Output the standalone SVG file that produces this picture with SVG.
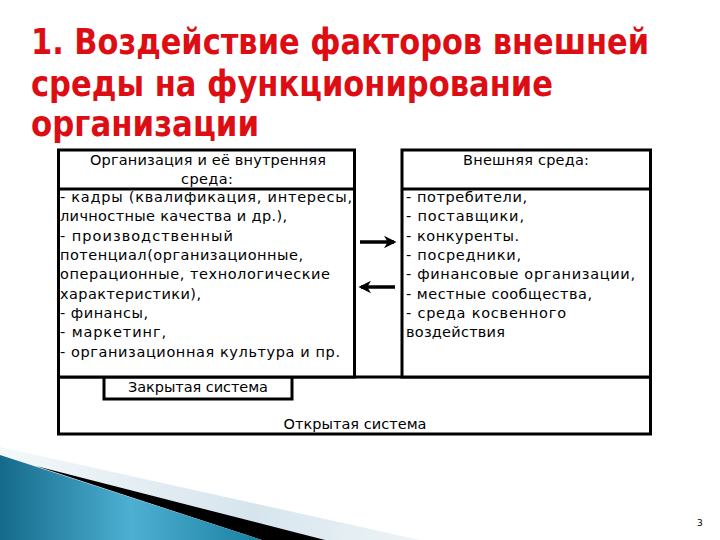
<svg xmlns="http://www.w3.org/2000/svg" width="720" height="540" viewBox="0 0 720 540">
<style>
.title{font-family:"DejaVu Sans Condensed","DejaVu Sans",sans-serif;font-weight:bold;font-size:35px;fill:#dd0d14}
.t{font-family:"DejaVu Sans","Liberation Sans",sans-serif;font-size:14.5px;fill:#000}
.box{fill:#fff;stroke:#000;stroke-width:3}
.ln{stroke:#000;stroke-width:3;fill:none}
.arr{stroke:#000;stroke-width:3.5;fill:none}
.pn{font-family:"DejaVu Sans",sans-serif;font-size:9px;fill:#000}
</style>
<defs>
<marker id="ah" viewBox="0 0 10 10" refX="8" refY="5" markerWidth="3.6" markerHeight="4" orient="auto" markerUnits="strokeWidth">
<path d="M0,0 L10,5 L0,10 L3,5 Z" fill="#000"/>
</marker>
<linearGradient id="teal" x1="0" y1="0" x2="1" y2="0">
<stop offset="0" stop-color="#156a8a"/>
<stop offset="0.5" stop-color="#4db0d2"/>
<stop offset="1" stop-color="#1b7fa2"/>
</linearGradient>
<linearGradient id="light" x1="0" y1="0" x2="1" y2="0">
<stop offset="0" stop-color="#f4f8fa"/>
<stop offset="0.6" stop-color="#d6e5ed"/>
<stop offset="1" stop-color="#eef4f7"/>
</linearGradient>
</defs>
<rect width="720" height="540" fill="#fff"/>
<g id="decoration">
<polygon points="0,447 420,540 0,540" fill="url(#light)"/>
<polygon points="36,466 325,540 262,540" fill="#000"/>
<polygon points="0,455 262,540 0,540" fill="url(#teal)"/>
</g>
<g id="title">
<text class="title" x="31" y="54" textLength="618" lengthAdjust="spacingAndGlyphs">1. Воздействие факторов внешней</text>
<text class="title" x="31" y="96" textLength="522" lengthAdjust="spacingAndGlyphs">среды на функционирование</text>
<text class="title" x="31" y="136" textLength="228" lengthAdjust="spacingAndGlyphs">организации</text>
</g>
<g id="open-system">
<rect class="box" x="58.5" y="377" width="592" height="57"/>
<text class="t" x="355" y="429" text-anchor="middle" textLength="143">Открытая система</text>
</g>
<g id="closed-system">
<rect class="box" x="104" y="377" width="188" height="22"/>
<text class="t" x="198" y="392" text-anchor="middle" textLength="140">Закрытая система</text>
</g>
<g id="internal-environment">
<rect class="box" x="58.5" y="150" width="296" height="227"/>
<line class="ln" x1="58.5" y1="189" x2="354.5" y2="189"/>
<text class="t" x="208" y="165" text-anchor="middle" textLength="236">Организация и её внутренняя</text>
<text class="t" x="207" y="184" text-anchor="middle" textLength="52">среда:</text>
<text class="t" x="60" y="202" textLength="292">- кадры (квалификация, интересы,</text>
<text class="t" x="60" y="221" textLength="227">личностные качества и др.),</text>
<text class="t" x="60" y="241" textLength="173">- производственный</text>
<text class="t" x="60" y="260" textLength="243">потенциал(организационные,</text>
<text class="t" x="60" y="279" textLength="270">операционные, технологические</text>
<text class="t" x="60" y="299" textLength="141">характеристики),</text>
<text class="t" x="60" y="318" textLength="88">- финансы,</text>
<text class="t" x="60" y="337" textLength="106">- маркетинг,</text>
<text class="t" x="60" y="357" textLength="280">- организационная культура и пр.</text>
</g>
<g id="external-environment">
<rect class="box" x="402" y="150" width="248.5" height="227"/>
<line class="ln" x1="402" y1="189" x2="650.5" y2="189"/>
<text class="t" x="526" y="165" text-anchor="middle" textLength="126">Внешняя среда:</text>
<text class="t" x="406" y="202" textLength="121">- потребители,</text>
<text class="t" x="406" y="221" textLength="118">- поставщики,</text>
<text class="t" x="406" y="241" textLength="113">- конкуренты.</text>
<text class="t" x="406" y="260" textLength="115">- посредники,</text>
<text class="t" x="406" y="279" textLength="229">- финансовые организации,</text>
<text class="t" x="406" y="299" textLength="186">- местные сообщества,</text>
<text class="t" x="406" y="318" textLength="160">- среда косвенного</text>
<text class="t" x="406" y="337" textLength="99">воздействия</text>
</g>
<g id="connectors">
<line class="arr" x1="360" y1="242" x2="394" y2="242" marker-end="url(#ah)"/>
<line class="arr" x1="395" y1="287" x2="361" y2="287" marker-end="url(#ah)"/>
</g>
<text class="pn" x="697" y="526">3</text>
</svg>
